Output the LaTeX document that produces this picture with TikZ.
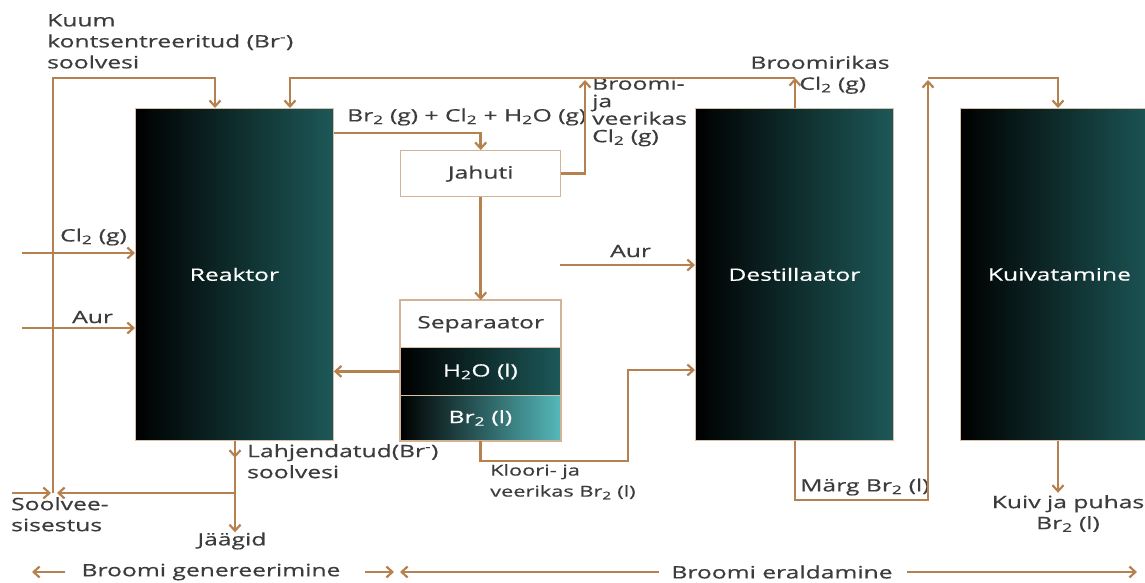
\documentclass[tikz,border=0pt]{standalone}
\usepackage{fontspec}
\setmainfont{Open Sans}[FakeStretch=1.45,FakeBold=0.6]
\usetikzlibrary{arrows.meta,calc}
\definecolor{flow}{HTML}{B5814F}
\definecolor{txt}{HTML}{3C3C3C}
\definecolor{tealA}{HTML}{1D5858}
\definecolor{tealB}{HTML}{55B8BA}
\begin{document}
\begin{tikzpicture}[x=1pt,y=-1pt,
  font=\fontsize{17}{21}\selectfont,
  flowline/.style={draw=flow, line width=2.6pt},
  arr/.style={flowline, -{Straight Barb[length=6pt,width=11pt,line width=2.2pt]}},
  unitbox/.style={draw=flow!50, line width=0.8pt, left color=black, right color=tealA,
     text=white, minimum width=198pt, minimum height=332pt, inner sep=0pt, anchor=north west},
  whitebox/.style={draw=flow!60, line width=1.4pt, fill=white, text=txt,
     minimum width=160pt, inner sep=0pt, anchor=north west},
  layer/.style={draw=flow!50, line width=0.8pt, left color=black, text=white,
     minimum width=160pt, inner sep=0pt, anchor=north west},
  lbl/.style={text=txt, inner sep=0pt, align=left},
  small/.style={font=\fontsize{15}{21}\selectfont},
]
\useasboundingbox (0,0) rectangle (1145,582);

% units
\node[unitbox] (reak) at (135,108) {Reaktor};
\node[unitbox] (dest) at (695,108) {Destillaator};
\node[unitbox] (kuiv) at (960,108) {Kuivatamine};
\node[whitebox, minimum height=46pt] (jah) at (400,150) {Jahuti};
\node[whitebox, minimum height=47pt] (sep) at (400,300) {Separaator};
\node[layer, right color=tealA, minimum height=48pt] (h2o) at (400,347) {H\textsubscript{2}O (l)};
\node[layer, right color=tealB, minimum height=45pt] (brl) at (400,395) {Br\textsubscript{2} (l)};
\draw[draw=flow!60, line width=1.4pt] (sep.north west) rectangle (brl.south east);

% coordinates
\coordinate (j1) at (53,493);
\coordinate (j2) at (235,493);
\coordinate (sw) at (12,493);
\coordinate (topL) at (53,78);
\coordinate (topM) at (795,78);
\coordinate (topR) at (928,78);
\coordinate (clin) at (22,253);
\coordinate (aurin) at (22,328);
\coordinate (aurd) at (560,265);
\coordinate (k1) at (628,461);
\coordinate (m1) at (928,500);

% text labels
\node[lbl, anchor=north west] (kuum) at (47,14)
  {Kuum\\kontsentreeritud (Br\textsuperscript{-})\\soolvesi};
\node[lbl, anchor=west] (mix) at (347,117)
  {Br\textsubscript{2} (g) + Cl\textsubscript{2} + H\textsubscript{2}O (g)};
\node[lbl, anchor=north west, font=\fontsize{17}{17.5}\selectfont] (bja) at (592,77)
  {Broomi-\\ja\\veerikas\\Cl\textsubscript{2} (g)};
\node[lbl, align=center, anchor=south] (brc) at (820,94)
  {Broomirikas\\\hspace*{1.5em}Cl\textsubscript{2} (g)};
\node[lbl, anchor=west] (cll) at (60,237) {Cl\textsubscript{2} (g)};
\node[lbl, anchor=west] (aurl1) at (72,317) {Aur};
\node[lbl, anchor=west] (aurl2) at (610,251) {Aur};
\node[lbl, anchor=north west] (lahj) at (247,444)
  {Lahjendatud(Br\textsuperscript{-})\\soolvesi};
\node[lbl, anchor=north west] (soolv) at (11,497) {Soolvee-\\sisestus};
\node[lbl] (jaag) at (232,541) {Jäägid};
\node[lbl, small, anchor=north west] (kloo) at (490,464) {Kloori- ja\\veerikas Br\textsubscript{2} (l)};
\node[lbl, anchor=west] (marg) at (800,487) {Märg Br\textsubscript{2} (l)};
\node[lbl, align=center, anchor=north] (kp) at (1068,495) {Kuiv ja puhas\\Br\textsubscript{2} (l)};
\node[lbl] (gen) at (211,572) {Broomi genereerimine};
\node[lbl] (era) at (782,572) {Broomi eraldamine};

% feed brine
\draw[arr] (j1) -- (topL) -| ($(reak.north west)+(80,0)$);
% recycle from destillaator top to reaktor
\draw[arr] ($(dest.north west)+(100,0)$) -- (topM);
\draw[flowline] (topM) -| ($(reak.north west)+(155,-5)$);
\draw[arr] ($(reak.north west)+(155,-30)$) -- ($(reak.north west)+(155,0)$);
% reaktor -> jahuti
\draw[arr] ($(reak.north east)+(0,25)$) -| (jah.north);
% jahuti -> top line
\draw[arr] (jah.east) -| ($(topM)+(-210,2)$);
% jahuti -> separaator
\draw[arr] (jah.south) -- (sep.north);
% H2O back to reaktor
\draw[arr] (h2o.west) -- (h2o.west -| reak.east);
% Br2 to destillaator
\draw[arr] (brl.south) |- (k1) |- ($(dest.north west)+(0,262)$);
% aur into destillaator
\draw[arr] (aurd) -- (aurd -| dest.west);
% Cl2 and aur into reaktor
\draw[arr] (clin) -- (clin -| reak.west);
\draw[arr] (aurin) -- (aurin -| reak.west);
% reaktor bottom
\draw[flowline] ($(reak.south west)+(100,0)$) -- (j2);
\draw[arr] ($(reak.south west)+(100,0)$) -- ++(0,17);
\draw[arr] (j2) -- (j2 |- jaag.north);
\draw[arr] (j2) -- ($(j1)+(4,0)$);
\draw[arr] (sw) -- ($(j1)+(-2,0)$);
% destillaator bottom -> kuivatamine
\draw[arr] ($(dest.south west)+(100,0)$) |- (m1) -- ($(topR)+(0,2)$);
\draw[arr] (topR) -| ($(kuiv.north west)+(98,0)$);
% product
\draw[arr] ($(kuiv.south west)+(98,0)$) -- ($(kuiv.south west)+(98,52)$);
% bottom range arrows
\draw[arr] (gen.west) ++(-16,0) -- (32,572);
\draw[arr] (gen.east) ++(24,0) -- (394,572);
\draw[arr] (era.west) ++(-12,0) -- (400,572);
\draw[arr] (era.east) ++(14,0) -- (1137,572);
\end{tikzpicture}
\end{document}
